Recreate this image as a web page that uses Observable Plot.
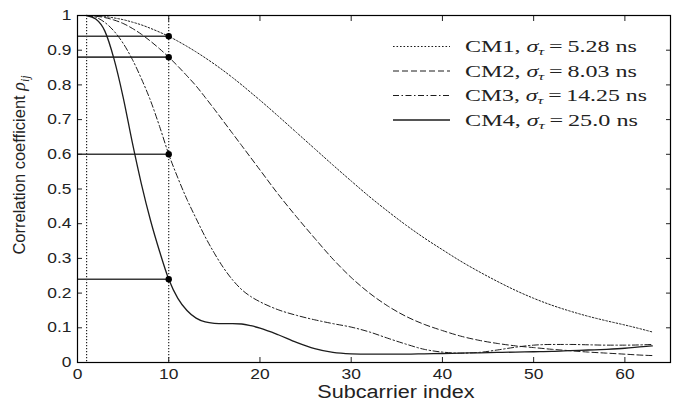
<!DOCTYPE html>
<html><head><meta charset="utf-8">
<script src="https://cdn.jsdelivr.net/npm/d3@7"></script>
<script src="https://cdn.jsdelivr.net/npm/@observablehq/plot@0.6"></script>
<style>
html,body{margin:0;padding:0;background:#fff;}
#chart{width:678px;height:404px;overflow:hidden;}
</style></head><body><div id="chart"></div>
<script>
// ---- data ----
const subcarrier = [1,2,3,4,5,6,7,8,9,10,11,12,13,14,15,16,17,18,19,20,22,24,26,28,30,32,34,36,38,40,42,44,46,48,50,52,54,56,58,60,62,63];
const cm1 = [1,0.999,0.997,0.993,0.988,0.981,0.973,0.963,0.952,0.94,0.926,0.911,0.895,0.878,0.86,0.841,0.821,0.8,0.778,0.756,0.71,0.663,0.616,0.569,0.523,0.478,0.436,0.396,0.359,0.325,0.292,0.262,0.234,0.208,0.185,0.165,0.148,0.133,0.12,0.108,0.095,0.088];
const cm2 = [1,0.998,0.994,0.987,0.977,0.963,0.946,0.926,0.904,0.88,0.854,0.826,0.797,0.764,0.73,0.695,0.66,0.625,0.59,0.555,0.485,0.42,0.358,0.298,0.245,0.2,0.163,0.133,0.11,0.092,0.076,0.064,0.055,0.048,0.043,0.038,0.034,0.03,0.027,0.024,0.021,0.02];
const cm3 = [1,0.995,0.98,0.955,0.92,0.874,0.818,0.755,0.68,0.6,0.532,0.47,0.415,0.362,0.315,0.273,0.238,0.21,0.19,0.175,0.152,0.136,0.123,0.112,0.102,0.088,0.07,0.053,0.038,0.03,0.027,0.029,0.036,0.044,0.05,0.052,0.052,0.051,0.05,0.05,0.051,0.052];
const cm4 = [1,0.99,0.955,0.875,0.765,0.635,0.515,0.41,0.32,0.24,0.185,0.15,0.128,0.117,0.113,0.112,0.112,0.111,0.106,0.099,0.08,0.058,0.04,0.029,0.025,0.024,0.024,0.024,0.025,0.026,0.027,0.028,0.029,0.03,0.031,0.032,0.034,0.036,0.038,0.041,0.046,0.048];
const seriesNames = ["CM1","CM2","CM3","CM4"];
const seriesDelay = ["5.28","8.03","14.25","25.0"];
const sampleIndex = 10;
const markX = [1, sampleIndex];
const markY = [0.94, 0.88, 0.6, 0.24];
const xTicks = [0,10,20,30,40,50,60];
const yTicks = [0,0.1,0.2,0.3,0.4,0.5,0.6,0.7,0.8,0.9,1];

// ---- styles ----
const dashes = ["1.6,1.9","6,3","6,2.5,1.5,2.5",null];
const widths = [1,1,1,1.3];
const ink = "#1c1c1c";

const table = [];
[cm1,cm2,cm3,cm4].forEach((vals,k)=>vals.forEach((v,i)=>table.push({series:seriesNames[k], x:subcarrier[i], y:v})));

const lineMarks = seriesNames.map((s,k)=>Plot.line(table.filter(d=>d.series===s),{
  x:"x", y:"y", stroke:ink, strokeWidth:widths[k], strokeDasharray:dashes[k], curve:"monotone-x"
}));

const chart = Plot.plot({
  width:678, height:404, marginLeft:77, marginRight:8, marginTop:15, marginBottom:42,
  x:{domain:[0,65], label:null},
  y:{domain:[0,1], label:null},
  style:{fontFamily:"'Liberation Sans', Arial, sans-serif", fontSize:"14.5px", color:"#222", background:"#fff", overflow:"visible"},
  marks:[
    Plot.ruleX(markX,{x:d=>d, stroke:"#111", strokeDasharray:"1.2,1.8", strokeWidth:1.1}),
    Plot.ruleY(markY,{y:d=>d, x1:()=>0, x2:()=>sampleIndex, stroke:"#3a3a3a", strokeWidth:1.6}),
    ...lineMarks,
    Plot.dot(markY,{x:()=>sampleIndex, y:d=>d, r:3.2, fill:"#000", stroke:"none"}),
    Plot.axisX(xTicks,{anchor:"bottom", tickSize:-5, tickPadding:11, tickFormat:d=>String(d), fill:"#222"}),
    Plot.axisX(xTicks,{anchor:"top", tickSize:-5, tickFormat:()=>""}),
    Plot.axisY(yTicks,{anchor:"left", tickSize:-5, tickPadding:11, tickFormat:d=>String(d), fill:"#222"}),
    Plot.axisY(yTicks,{anchor:"right", tickSize:-5, tickFormat:()=>""}),
    Plot.frame({stroke:"#000", strokeWidth:1.2})
  ]
});
document.getElementById("chart").appendChild(chart);

const svg = d3.select(chart);
// stretch tick labels slightly (reference glyphs are wide)
svg.selectAll('g[aria-label="x-axis tick label"] text, g[aria-label="y-axis tick label"] text').each(function(){
  const w = this.getComputedTextLength();
  if (w > 0) { this.setAttribute("textLength", (w*1.2).toFixed(2)); this.setAttribute("lengthAdjust","spacingAndGlyphs"); }
});

// x-axis title
const xl = svg.append("text").attr("x",396).attr("y",398).attr("text-anchor","middle")
  .attr("font-family","'Liberation Sans', Arial, sans-serif").attr("font-size",18).attr("fill","#222")
  .text("Subcarrier index");
{ const w = xl.node().getComputedTextLength(); xl.attr("textLength",(w*1.2).toFixed(2)).attr("lengthAdjust","spacingAndGlyphs"); }

// y-axis title
const yl = svg.append("text").attr("transform","translate(25,165) rotate(-90)").attr("text-anchor","middle")
  .attr("font-family","'Liberation Sans', Arial, sans-serif").attr("font-size",16.5).attr("fill","#222");
yl.append("tspan").text("Correlation coefficient ");
yl.append("tspan").attr("font-family","'Liberation Serif', serif").attr("font-style","italic").attr("font-size",18).text("ρ");
yl.append("tspan").attr("font-family","'Liberation Serif', serif").attr("font-style","italic").attr("font-size",12).attr("dy",4).text("ij");

// legend
const rowY = [46.5, 71, 95.5, 120];
const leg = svg.append("g");
seriesNames.forEach((s,k)=>{
  leg.append("line").attr("x1",393).attr("x2",450).attr("y1",rowY[k]).attr("y2",rowY[k])
    .attr("stroke",ink).attr("stroke-width",widths[k]).attr("stroke-dasharray",dashes[k]);
  const g = leg.append("g").attr("transform",`translate(465,${rowY[k]})`);
  const t = g.append("text").attr("text-anchor","start").attr("dy","0.36em")
    .attr("font-family","'Liberation Serif', serif").attr("font-size",16).attr("fill","#222");
  t.append("tspan").text(s + ", ");
  t.append("tspan").attr("font-style","italic").text("σ");
  t.append("tspan").attr("font-style","italic").attr("font-size",11).attr("dy",3).text("τ");
  t.append("tspan").attr("dy",-3).text("\u2009=\u2009" + seriesDelay[k] + " ns");
  const w = t.node().getBBox().width;
  const target = [172,172,182,173][k];
  g.attr("transform",`translate(465,${rowY[k]}) scale(${(target/w).toFixed(3)},1)`);
});
</script></body></html>
